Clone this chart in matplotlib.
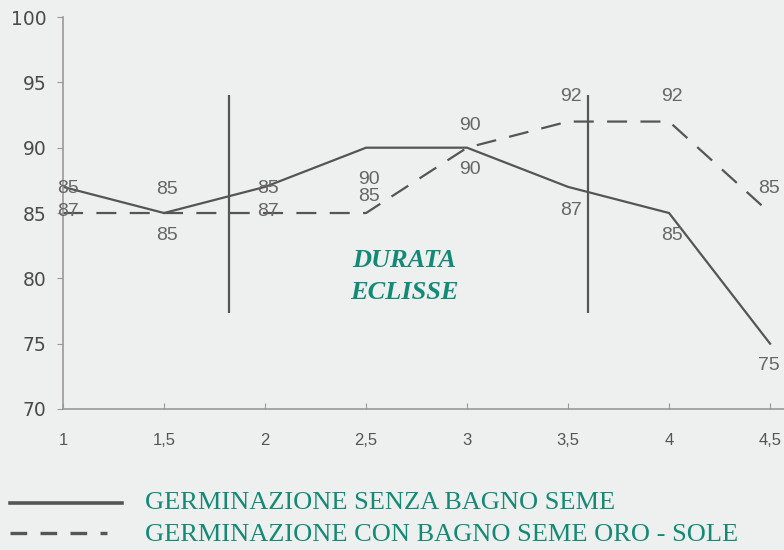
import matplotlib.pyplot as plt

x_vals = [1, 1.5, 2, 2.5, 3, 3.5, 4, 4.5]
x_labels = ["1", "1,5", "2", "2,5", "3", "3,5", "4", "4,5"]
senza_bagno = [87, 85, 87, 90, 90, 87, 85, 75]
con_bagno = [85, 85, 85, 85, 90, 92, 92, 85]
y_ticks = [70, 75, 80, 85, 90, 95, 100]

# number labels as printed in the picture (upper, lower)
labels_upper = ["85", "85", "85", "90", "90", "92", "92", "85"]
labels_lower = ["87", "85", "87", "85", "90", "87", "85", "75"]
upper_y = [86.9, 86.8, 86.9, 87.6, 91.7, 93.9, 93.9, 86.9]
lower_y = [85.1, 83.3, 85.1, 86.3, 88.3, 85.2, 83.3, 73.3]

eclipse_start = 1.82
eclipse_end = 3.60

bg = "#eef0ef"
line_col = "#555555"
text_col = "#666666"
teal = "#128a76"

fig = plt.figure(figsize=(7.84, 5.5), dpi=100, facecolor=bg)
ax = fig.add_axes([0.0804, 0.2564, 1 - 0.0804, 0.969 - 0.2564])
ax.set_facecolor(bg)

ax.plot(x_vals, senza_bagno, color=line_col, lw=1.6, solid_joinstyle="miter")
ax.plot(x_vals, con_bagno, color=line_col, lw=1.6, dashes=(9, 6))

ax.vlines([eclipse_start, eclipse_end], 77.35, 94.0, color=line_col, lw=1.6)

num_font = dict(family="Liberation Sans", fontsize=14, color=text_col,
                ha="center", va="center")
for xv, lu, ll, yu, yl in zip(x_vals, labels_upper, labels_lower, upper_y, lower_y):
    xt = xv + 0.025 if xv == 1 else xv + 0.015
    if xv == 4.5:
        xt = xv - 0.005
    ax.text(xt, yu, lu, **num_font)
    ax.text(xt, yl, ll, **num_font)

ax.text(2.69, 81.4, "DURATA", family="Liberation Serif", fontsize=19,
        fontweight="bold", style="italic", color=teal, ha="center", va="center")
ax.text(2.69, 78.95, "ECLISSE", family="Liberation Serif", fontsize=19,
        fontweight="bold", style="italic", color=teal, ha="center", va="center")

ax.set_xlim(1, 4.569)
ax.set_ylim(70, 100)
ax.set_xticks(x_vals)
ax.set_xticklabels(x_labels)
ax.set_yticks(y_ticks)
ax.set_yticklabels([str(v) for v in y_ticks])
for lab in ax.get_xticklabels():
    lab.set_family("Liberation Sans")
    lab.set_fontsize(12)
    lab.set_color("#555555")
for lab in ax.get_yticklabels():
    lab.set_family("DejaVu Sans")
    lab.set_fontsize(13.5)
    lab.set_color("#4a4a4a")
ax.tick_params(axis="x", direction="in", length=4, color="#999999", pad=17)
ax.tick_params(axis="y", direction="out", length=4, color="#999999", pad=8)

for side in ["top", "right"]:
    ax.spines[side].set_visible(False)
for side in ["left", "bottom"]:
    ax.spines[side].set_color("#999999")
    ax.spines[side].set_linewidth(1.2)

# legend drawn manually below the chart
fig.lines.append(plt.Line2D([10 / 784, 122 / 784], [1 - 503 / 550] * 2,
                            transform=fig.transFigure, color=line_col, lw=2.6))
fig.lines.append(plt.Line2D([10 / 784, 107 / 784], [1 - 533 / 550] * 2,
                            transform=fig.transFigure, color=line_col, lw=2.4,
                            dashes=(5, 4)))
fig.text(145 / 784, 1 - 503 / 550, "GERMINAZIONE SENZA BAGNO SEME",
         family="Liberation Serif", fontsize=19, color=teal, va="center")
fig.text(145 / 784, 1 - 535 / 550, "GERMINAZIONE CON BAGNO SEME ORO - SOLE",
         family="Liberation Serif", fontsize=19, color=teal, va="center")

fig.savefig("out.png", dpi=100, facecolor=bg)
